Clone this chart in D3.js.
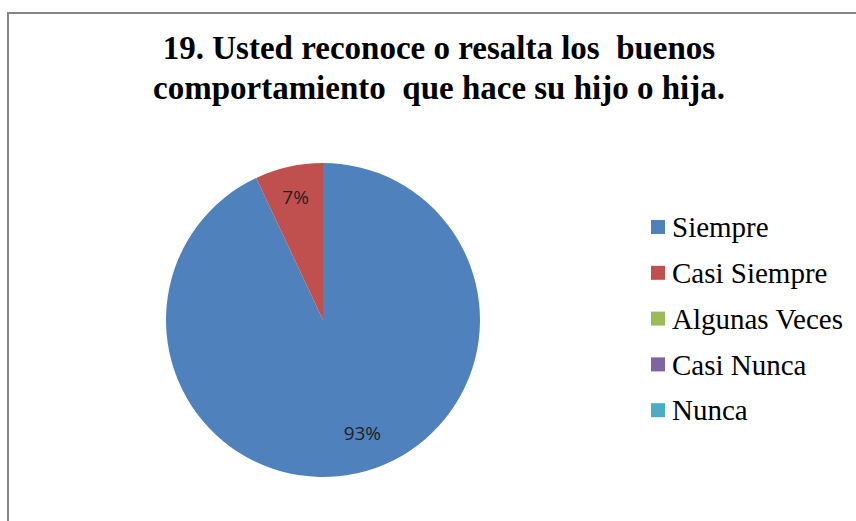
<!DOCTYPE html>
<html>
<head>
<meta charset="utf-8">
<script src="https://cdn.jsdelivr.net/npm/d3@7"></script>
<style>
  body { margin: 0; background: #fff; }
</style>
</head>
<body>
<div id="chart"></div>
<script>
// Chart data
const categories = ["Siempre", "Casi Siempre", "Algunas Veces", "Casi Nunca", "Nunca"];
const values = [93, 7, 0, 0, 0];
const colors = ["#4F81BD", "#C0504D", "#9BBB59", "#8064A2", "#4BACC6"];
const titleLines = ["19. Usted reconoce o resalta los  buenos", "comportamiento  que hace su hijo o hija."];

const width = 856, height = 521;

const svg = d3.select("#chart")
  .append("svg")
  .attr("width", width)
  .attr("height", height);

// chart area border
svg.append("rect")
  .attr("x", 8)
  .attr("y", 13)
  .attr("width", width)
  .attr("height", height)
  .attr("fill", "#fff")
  .attr("stroke", "#868686")
  .attr("stroke-width", 2);

// title
svg.append("text")
  .attr("x", 440)
  .attr("y", 59)
  .attr("text-anchor", "middle")
  .style("font-family", "'Liberation Serif', 'Times New Roman', serif")
  .style("font-weight", "bold")
  .style("font-size", "33px")
  .selectAll("tspan")
  .data(titleLines)
  .enter()
  .append("tspan")
  .attr("x", 439)
  .attr("dy", (d, i) => i === 0 ? 0 : 40)
  .style("white-space", "pre")
  .text(d => d);

// pie
const cx = 323, cy = 320, r = 157;
const pie = d3.pie().sort(null).value(d => d.v);
const arc = d3.arc().innerRadius(0).outerRadius(r);
const data = categories.map((c, i) => ({ c: c, v: values[i], color: colors[i] }));
const arcs = pie(data);

const g = svg.append("g").attr("transform", `translate(${cx},${cy})`);

g.selectAll("path")
  .data(arcs.filter(d => d.data.v > 0))
  .enter()
  .append("path")
  .attr("d", arc)
  .attr("fill", d => d.data.color);

// labels (radius factor, extra x shift)
const labelPos = { "Siempre": [0.74, 14], "Casi Siempre": [0.8, 0] };
g.selectAll(".label")
  .data(arcs.filter(d => d.data.v > 0))
  .enter()
  .append("text")
  .attr("class", "label")
  .attr("transform", d => {
    const a = (d.startAngle + d.endAngle) / 2;
    const rr = r * labelPos[d.data.c][0];
    return `translate(${Math.sin(a) * rr + labelPos[d.data.c][1]},${-Math.cos(a) * rr})`;
  })
  .attr("text-anchor", "middle")
  .attr("dy", "0.35em")
  .style("font-family", "'Open Sans', sans-serif")
  .style("font-size", "19px")
  .style("fill", "#222")
  .text(d => d.data.v + "%");

// legend
const legend = svg.append("g").attr("transform", "translate(651,227)");
const items = legend.selectAll(".item")
  .data(data)
  .enter()
  .append("g")
  .attr("transform", (d, i) => `translate(0,${i * 45.8})`);

items.append("rect")
  .attr("y", -7)
  .attr("width", 14)
  .attr("height", 14)
  .attr("fill", d => d.color);

items.append("text")
  .attr("x", 21)
  .attr("dy", "0.35em")
  .style("font-family", "'Liberation Serif', 'Times New Roman', serif")
  .style("font-size", "29px")
  .style("fill", "#000")
  .text(d => d.c);
</script>
</body>
</html>
